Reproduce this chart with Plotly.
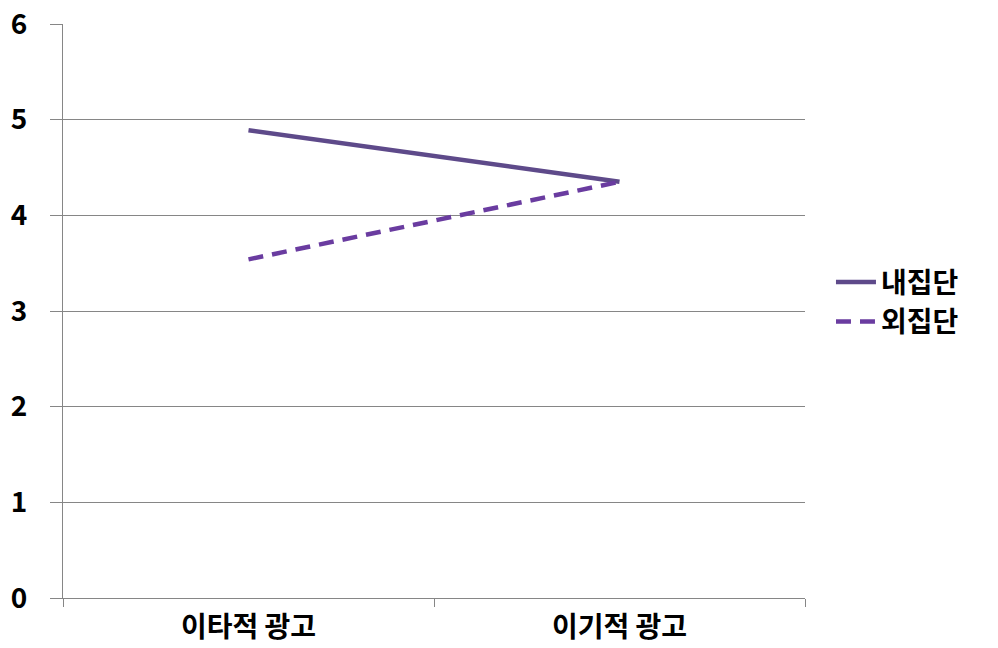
import plotly.graph_objects as go

categories = ["이타적 광고", "이기적 광고"]
series_names = ["내집단", "외집단"]
ingroup = [4.89, 4.35]
outgroup = [3.54, 4.35]
y_ticks = [0, 1, 2, 3, 4, 5, 6]

FONT = "Noto Sans CJK KR"

fig = go.Figure()
fig.add_trace(go.Scatter(
    x=categories, y=ingroup, name=series_names[0], mode="lines",
    line=dict(color="#5E4A8A", width=4.5),
))
fig.add_trace(go.Scatter(
    x=categories, y=outgroup, name=series_names[1], mode="lines",
    line=dict(color="#6A3CA0", width=4.5, dash="15px,9px"),
))

fig.update_layout(
    width=998, height=648,
    margin=dict(l=63, r=193, t=24, b=50),
    paper_bgcolor="white", plot_bgcolor="white",
    font=dict(family=FONT, size=24, color="black"),
    legend=dict(
        x=1.035, y=0.516, xanchor="left", yanchor="middle",
        font=dict(family=FONT, size=28, color="black", weight="bold"),
        bgcolor="rgba(0,0,0,0)", tracegroupgap=0, itemwidth=40,
    ),
    xaxis=dict(
        type="category", range=[-0.5, 1.5], automargin=False,
        showgrid=False, showline=True, linecolor="#868686", linewidth=1,
        ticks="outside", tickson="boundaries", ticklen=8, tickcolor="#868686",
        ticklabelstandoff=4,
        tickfont=dict(family=FONT, size=28, color="black", weight="bold"),
        zeroline=False,
    ),
    yaxis=dict(
        range=[0, 6], tickvals=y_ticks, automargin=False,
        showgrid=True, gridcolor="#868686", gridwidth=1,
        showline=True, linecolor="#868686", linewidth=1,
        ticks="outside", ticklen=12, tickcolor="#868686",
        ticklabelstandoff=17,
        tickfont=dict(family=FONT, size=28, color="black", weight="bold"),
        zeroline=False,
    ),
)

fig.write_html("out.html")
